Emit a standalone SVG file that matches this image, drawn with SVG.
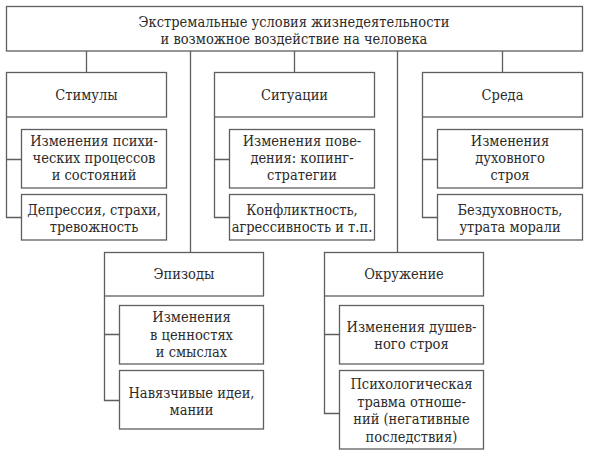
<svg xmlns="http://www.w3.org/2000/svg" width="591" height="459" viewBox="0 0 591 459">
<style>
rect{fill:#fff;stroke:#5e5e5e;stroke-width:1.3}
.c path{fill:none;stroke:#5e5e5e;stroke-width:1.3}
text{font-family:'DejaVu Serif Condensed','DejaVu Serif',serif;font-stretch:condensed;font-size:14.5px;fill:#2b2b2b;text-anchor:middle}
</style>
<rect x="0" y="0" width="591" height="459" style="fill:#fff;stroke:none"/>
<g class="c" id="connectors">
<path d="M86.5 51V72M294.5 51V72M502.5 51V72M190.5 51V252M397.5 51V252"/>
<path d="M6.5 117V217.5H21M6.5 159.5H21"/>
<path d="M214.5 117V217.5H229M214.5 159.5H229"/>
<path d="M422.5 117V217.5H437M422.5 159.5H437"/>
<path d="M104.5 296V400.5H119M104.5 334.5H119"/>
<path d="M324.5 296V413.5H339M324.5 334.5H339"/>
</g>
<g id="root">
<rect x="6.5" y="6.5" width="576" height="44.5"/>
<text x="294" y="27">Экстремальные условия жизнедеятельности</text>
<text x="294" y="44">и возможное воздействие на человека</text>
</g>
<g id="stimuly">
<rect x="6.5" y="72.5" width="160" height="44.5"/>
<text x="86.5" y="99.5">Стимулы</text>
</g>
<g id="stimuly-1">
<rect x="21.5" y="129.5" width="145" height="58.5"/>
<text x="94" y="146">Изменения психи-</text>
<text x="94" y="163">ческих процессов</text>
<text x="94" y="180">и состояний</text>
</g>
<g id="stimuly-2">
<rect x="21.5" y="194.5" width="145" height="45.5"/>
<text x="94" y="215">Депрессия, страхи,</text>
<text x="94" y="232">тревожность</text>
</g>
<g id="situatsii">
<rect x="214.5" y="72.5" width="160" height="44.5"/>
<text x="294.5" y="99.5">Ситуации</text>
</g>
<g id="situatsii-1">
<rect x="229.5" y="129.5" width="145" height="58.5"/>
<text x="302" y="146">Изменения пове-</text>
<text x="302" y="163">дения: копинг-</text>
<text x="302" y="180">стратегии</text>
</g>
<g id="situatsii-2">
<rect x="229.5" y="194.5" width="145" height="45.5"/>
<text x="302" y="215">Конфликтность,</text>
<text x="302" y="232">агрессивность и т.п.</text>
</g>
<g id="sreda">
<rect x="422.5" y="72.5" width="160" height="44.5"/>
<text x="502.5" y="99.5">Среда</text>
</g>
<g id="sreda-1">
<rect x="437.5" y="129.5" width="145" height="58.5"/>
<text x="510" y="146">Изменения</text>
<text x="510" y="163">духовного</text>
<text x="510" y="180">строя</text>
</g>
<g id="sreda-2">
<rect x="437.5" y="194.5" width="145" height="45.5"/>
<text x="510" y="215">Бездуховность,</text>
<text x="510" y="232">утрата морали</text>
</g>
<g id="epizody">
<rect x="104.5" y="252.5" width="159" height="43.5"/>
<text x="184" y="279">Эпизоды</text>
</g>
<g id="epizody-1">
<rect x="119.5" y="305.5" width="144" height="58.5"/>
<text x="191.5" y="322">Изменения</text>
<text x="191.5" y="339.5">в ценностях</text>
<text x="191.5" y="357">и смыслах</text>
</g>
<g id="epizody-2">
<rect x="119.5" y="370.5" width="144" height="58.5"/>
<text x="191.5" y="398">Навязчивые идеи,</text>
<text x="191.5" y="415">мании</text>
</g>
<g id="okruzhenie">
<rect x="324.5" y="252.5" width="159" height="43.5"/>
<text x="404" y="279">Окружение</text>
</g>
<g id="okruzhenie-1">
<rect x="339.5" y="305.5" width="144" height="58.5"/>
<text x="411.5" y="332">Изменения душев-</text>
<text x="411.5" y="349">ного строя</text>
</g>
<g id="okruzhenie-2">
<rect x="339.5" y="370.5" width="144" height="78.5"/>
<text x="411.5" y="389">Психологическая</text>
<text x="411.5" y="406.5">травма отноше-</text>
<text x="411.5" y="424">ний (негативные</text>
<text x="411.5" y="441.5">последствия)</text>
</g>
</svg>
